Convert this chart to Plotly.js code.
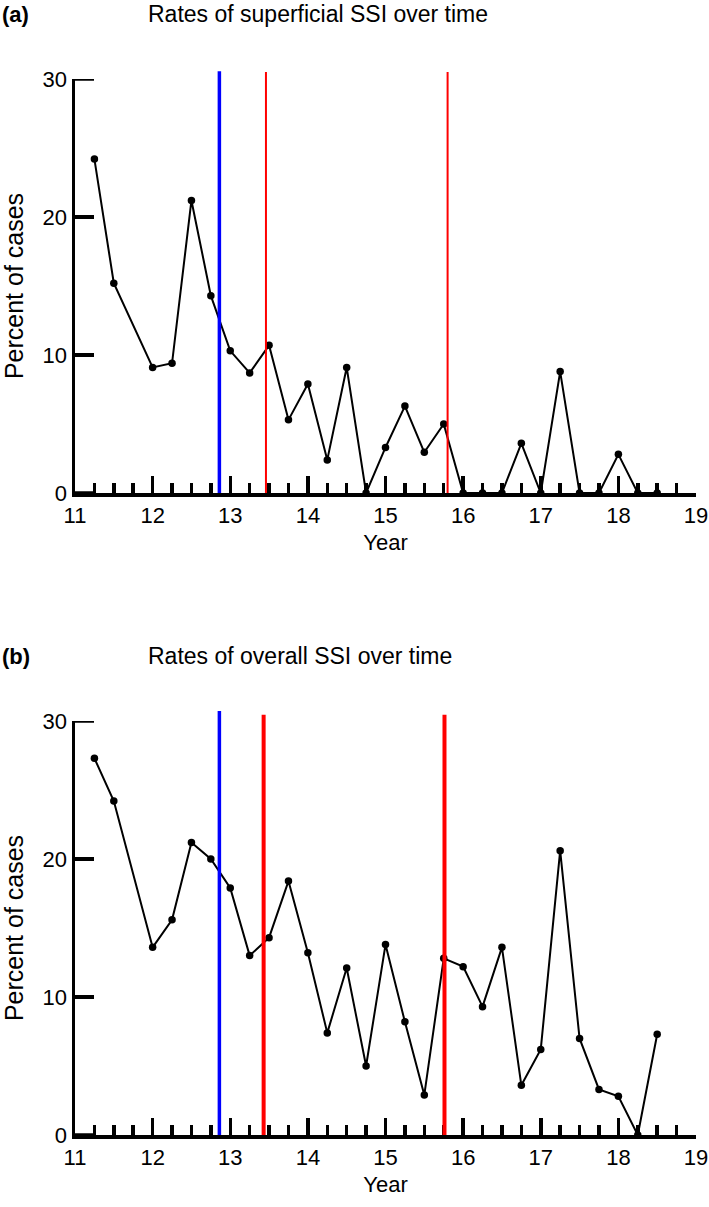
<!DOCTYPE html>
<html>
<head>
<meta charset="utf-8">
<script src="https://cdn.plot.ly/plotly-3.0.1.min.js"></script>
<style>html,body{margin:0;padding:0;background:#fff;}#chart{width:709px;height:1207px;}</style>
</head>
<body>
<div id="chart"></div>
<script>
// Quarter positions (year, 2-digit) – no data at 11.75
var quarters = [11.25, 11.5, 12, 12.25, 12.5, 12.75, 13, 13.25, 13.5, 13.75, 14, 14.25, 14.5, 14.75,
                15, 15.25, 15.5, 15.75, 16, 16.25, 16.5, 16.75, 17, 17.25, 17.5, 17.75, 18, 18.25, 18.5];
// (a) superficial SSI rates, percent of cases
var superficialSSI = [24.2, 15.2, 9.1, 9.4, 21.2, 14.3, 10.3, 8.7, 10.7, 5.3, 7.9, 2.4, 9.1, 0,
                      3.3, 6.3, 2.95, 5.0, 0, 0, 0, 3.6, 0, 8.8, 0, 0, 2.8, 0, 0];
// (b) overall SSI rates, percent of cases
var overallSSI = [27.3, 24.2, 13.6, 15.6, 21.2, 20.0, 17.9, 13.0, 14.3, 18.4, 13.2, 7.4, 12.1, 5.0,
                  13.8, 8.2, 2.9, 12.8, 12.2, 9.3, 13.6, 3.6, 6.2, 20.6, 7.0, 3.3, 2.8, 0, 7.3];
// intervention markers (year)
var bluePanelA = [12.86];
var redPanelA = [13.46, 15.80];
var bluePanelB = [12.86];
var redPanelB = [13.43, 15.76];
var xTickVals = [11, 12, 13, 14, 15, 16, 17, 18, 19];
var yTickVals = [0, 10, 20, 30];
var titleA = "Rates of superficial SSI over time";
var titleB = "Rates of overall SSI over time";

var FONT = "Liberation Sans, Arial, Helvetica, sans-serif";

function seriesTrace(y, xa, ya) {
  return {
    x: quarters, y: y, xaxis: xa, yaxis: ya, type: 'scatter', mode: 'lines+markers',
    line: {color: '#000', width: 2}, marker: {color: '#000', size: 7.5},
    cliponaxis: false, showlegend: false, hoverinfo: 'x+y'
  };
}

function xAxis(domainAnchor) {
  return {
    range: [11, 19], tickvals: xTickVals, ticktext: xTickVals.map(String),
    ticks: 'inside', ticklen: 17, tickwidth: 3.5, tickcolor: '#000',
    showline: true, linewidth: 3.5, linecolor: '#000', showgrid: false, zeroline: false,
    minor: {dtick: 0.25, tick0: 11, ticks: 'inside', ticklen: 10, tickwidth: 3.5, tickcolor: '#000', showgrid: false},
    tickfont: {family: FONT, size: 22, color: '#000'},
    title: {text: 'Year', font: {family: FONT, size: 22, color: '#000'}, standoff: 8},
    anchor: domainAnchor, automargin: false, fixedrange: true
  };
}
function yAxis(domain, anchor) {
  return {
    domain: domain, range: [0, 30], tickvals: yTickVals, ticktext: yTickVals.map(String),
    ticks: 'inside', ticklen: 19, tickwidth: 3.5, tickcolor: '#000',
    showline: true, linewidth: 3.5, linecolor: '#000', showgrid: false, zeroline: false,
    tickfont: {family: FONT, size: 22, color: '#000'},
    title: {text: 'Percent of cases', font: {family: FONT, size: 25, color: '#000'}, standoff: 16},
    anchor: anchor, automargin: false, fixedrange: true
  };
}

var shapes = [];
function vlines(xs, xref, yref, color, width, top) {
  xs.forEach(function (v) {
    shapes.push({type: 'line', xref: xref, yref: yref, x0: v, x1: v, y0: 0, y1: top,
      line: {color: color, width: width}, layer: 'above'});
  });
}
vlines(bluePanelA, 'x', 'y domain', '#0000ff', 3.5, 1.019);
vlines(redPanelA, 'x', 'y domain', '#ff0000', 2, 1.017);
vlines(bluePanelB, 'x2', 'y2 domain', '#0000ff', 3.5, 1.024);
vlines(redPanelB, 'x2', 'y2 domain', '#ff0000', 4, 1.015);

var H = 1207, L = 75, W = 621;
function px2x(p) { return (p - L) / W; }
function px2y(p) { return 1 - p / H; }

// inward y-axis tick stubs (reinforce the native ticks, incl. the one at 30)
[['x domain', 'y'], ['x2 domain', 'y2']].forEach(function (refs) {
  yTickVals.forEach(function (v) {
    shapes.push({type: 'line', xref: refs[0], yref: refs[1], x0: 0, x1: 19 / W, y0: v, y1: v,
      line: {color: '#000', width: 3.5}, layer: 'above'});
  });
});

var annotations = [
  {text: '<b>(a)</b>', xref: 'paper', yref: 'paper', x: px2x(0), y: px2y(14), xanchor: 'left', yanchor: 'middle', showarrow: false, font: {family: FONT, size: 22, color: '#000'}},
  {text: titleA, xref: 'paper', yref: 'paper', x: px2x(146), y: px2y(14), xanchor: 'left', yanchor: 'middle', showarrow: false, font: {family: FONT, size: 23, color: '#000'}},
  {text: '<b>(b)</b>', xref: 'paper', yref: 'paper', x: px2x(0), y: px2y(656), xanchor: 'left', yanchor: 'middle', showarrow: false, font: {family: FONT, size: 22, color: '#000'}},
  {text: titleB, xref: 'paper', yref: 'paper', x: px2x(146), y: px2y(656), xanchor: 'left', yanchor: 'middle', showarrow: false, font: {family: FONT, size: 23, color: '#000'}}
];

var layout = {
  width: 709, height: 1207,
  margin: {l: L, r: 13, t: 0, b: 0, pad: 0},
  paper_bgcolor: '#fff', plot_bgcolor: '#fff',
  showlegend: false,
  xaxis: xAxis('y'),
  yaxis: yAxis([px2y(493), px2y(79)], 'x'),
  xaxis2: xAxis('y2'),
  yaxis2: yAxis([px2y(1135), px2y(721)], 'x2'),
  shapes: shapes,
  annotations: annotations
};

Plotly.newPlot('chart', [seriesTrace(superficialSSI, 'x', 'y'), seriesTrace(overallSSI, 'x2', 'y2')], layout,
  {displayModeBar: false, staticPlot: true});
</script>
</body>
</html>
